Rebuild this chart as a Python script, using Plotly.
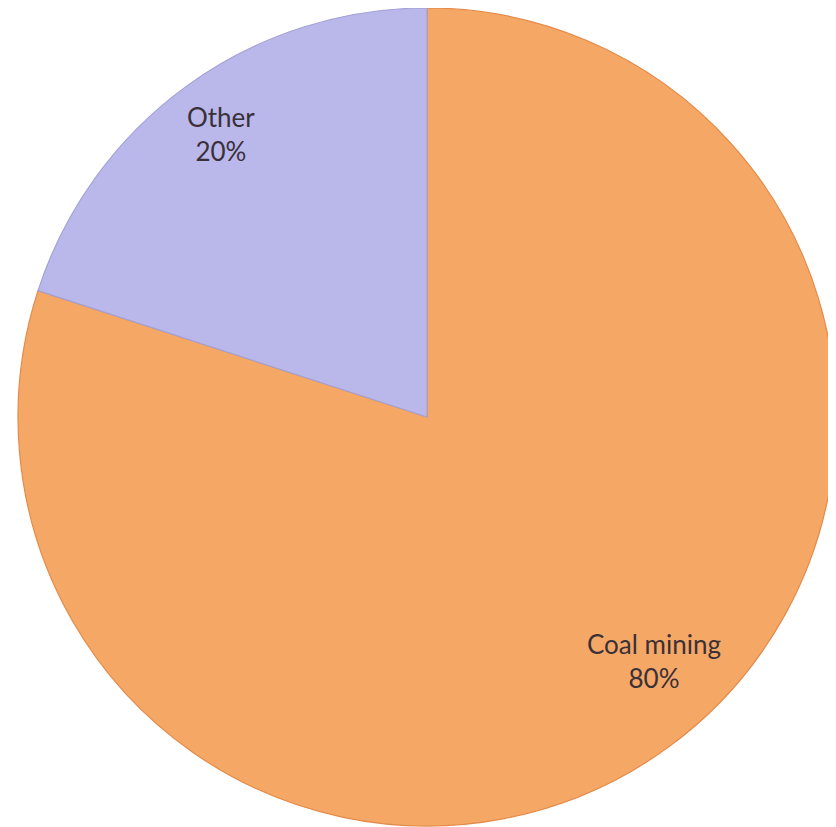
import math
import plotly.graph_objects as go

labels = ["Coal mining", "Other"]
values = [80, 20]

# styling
colors = ["#F5A766", "#BAB8EA"]
edge_colors = ["#E48A48", "#A3A1D6"]
label_radius = {"Coal mining": 0.815, "Other": 0.855}   # fraction of pie radius
label_angle_nudge = {"Coal mining": -7.0, "Other": 0.0}  # degrees

W, H = 836, 827
cx_px, cy_px, R_px = 419, 409, 409  # pie centre/radius in figure pixels
dom_x = [(cx_px - R_px) / W, (cx_px + R_px) / W]
dom_y = [1 - (cy_px + R_px) / H, min(1.0, 1 - (cy_px - R_px) / H)]

fig = go.Figure(go.Pie(
    labels=labels,
    values=values,
    sort=False,
    direction="clockwise",
    rotation=0,
    marker=dict(colors=colors, line=dict(color=edge_colors, width=1.2)),
    textinfo="none",
    domain=dict(x=dom_x, y=dom_y),
    showlegend=False,
    hoverinfo="skip",
))

total = sum(values)
cum = 0.0
annotations = []
for lab, v in zip(labels, values):
    mid = (cum + v / 2) / total * 360.0 + label_angle_nudge[lab]
    cum += v
    a = math.radians(mid)
    r = R_px * label_radius[lab]
    px = cx_px + r * math.sin(a)
    py = cy_px - r * math.cos(a)
    annotations.append(dict(
        x=px / W, y=1 - py / H, xref="paper", yref="paper",
        text=f"{lab}<br>{round(v / total * 100)}%",
        showarrow=False, xanchor="center", yanchor="middle", align="center",
        font=dict(family="Lato", size=26, color="#3a3038"),
    ))

fig.update_layout(
    width=W, height=H,
    margin=dict(l=0, r=0, t=0, b=0),
    paper_bgcolor="white",
    plot_bgcolor="white",
    annotations=annotations,
)

fig.write_html("out.html")
